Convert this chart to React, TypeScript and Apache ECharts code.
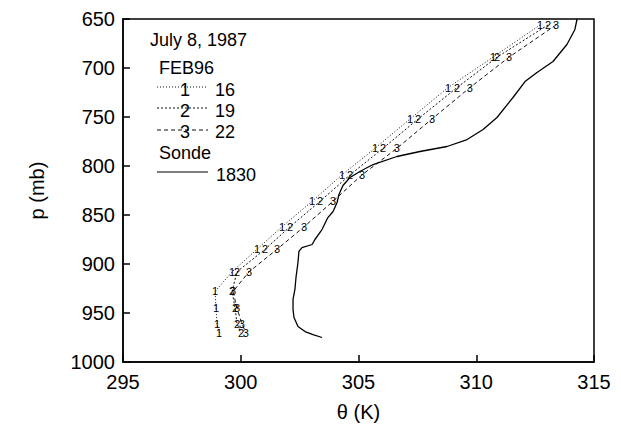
import React, { useEffect, useRef } from "react";
import * as echarts from "echarts";

// Model levels (mb) and potential temperature (K) for the FEB96 runs
const pLevels = [656, 689, 720, 752, 782, 809, 836, 862, 885, 908, 928, 945, 961, 970];
const theta16 = [312.71, 310.71, 308.8, 307.19, 305.7, 304.3, 303.03, 301.75, 300.69, 299.63, 298.91, 298.95, 298.99, 299.08];
const theta19 = [313.05, 310.88, 309.18, 307.53, 306.04, 304.64, 303.37, 302.09, 301.03, 299.84, 299.63, 299.76, 299.84, 300.01];
const theta22 = [313.39, 311.39, 309.73, 308.12, 306.63, 305.15, 303.92, 302.69, 301.54, 300.35, 299.67, 299.84, 300.05, 300.22];

// Sonde 1830
const sondeP = [650, 660.7, 676, 693.4, 704.6, 713.8, 730.1, 750.5, 762.8, 773, 780.1, 785.2, 790.3, 798.5, 805.6, 811.7, 819.9, 829.1, 837.2, 846.4, 852.6, 864.8, 875, 880.1, 883.2, 887.2, 898.5, 912.8, 926, 936.2, 946.4, 954.6, 963.8, 968.9, 972, 975];
const sondeTheta = [314.28, 314.19, 313.85, 313.26, 312.58, 312.07, 311.56, 310.88, 310.29, 309.61, 308.76, 307.61, 306.63, 305.62, 305.06, 304.64, 304.34, 304.17, 304.09, 303.92, 303.7, 303.45, 303.15, 303.03, 302.6, 302.47, 302.43, 302.35, 302.3, 302.22, 302.22, 302.26, 302.43, 302.73, 303.07, 303.45];

const xTicks = { min: 295, max: 315, interval: 5 };
const yTicks = { min: 650, max: 1000, interval: 50 };

const FONT = '"Liberation Sans", Arial, Helvetica, sans-serif';

function modelSeries(name: string, thetas: number[], mark: string, dash: number[]) {
  return {
    name,
    type: "line",
    color: "#000",
    data: thetas.map((t, i) => [t, pLevels[i]]),
    symbol: "circle",
    symbolSize: 1,
    showSymbol: true,
    itemStyle: { color: "transparent", borderColor: "transparent", borderWidth: 0 },
    lineStyle: { color: "#111", width: 1, type: dash },
    label: {
      show: true,
      position: "inside",
      formatter: mark,
      fontSize: 11,
      fontFamily: FONT,
      color: "#000",
      textBorderWidth: 0,
      textBorderColor: "transparent",
    },
    labelLayout: { hideOverlap: false },
    emphasis: { disabled: true },
    z: 3,
  };
}

export default function App() {
  const ref = useRef<HTMLDivElement>(null);
  useEffect(() => {
    document.body.style.margin = "0";
    if (!ref.current) return;
    const chart = echarts.init(ref.current, undefined, { renderer: "svg" });
    const legendFont = `18px ${FONT}`;
    const t = (text: string, x: number, y: number, align = "left") => ({
      type: "text",
      x,
      y,
      style: { text, font: legendFont, fill: "#000", textAlign: align, textVerticalAlign: "middle" },
    });
    const option: any = {
      animation: false,
      backgroundColor: "#fff",
      color: ["#000", "#000", "#000", "#000"],
      grid: {
        left: 123,
        right: 27,
        top: 19,
        bottom: 74,
        show: true,
        borderColor: "#000",
        borderWidth: 1.5,
        backgroundColor: "transparent",
      },
      xAxis: {
        type: "value",
        min: xTicks.min,
        max: xTicks.max,
        interval: xTicks.interval,
        name: "θ (K)",
        nameLocation: "middle",
        nameGap: 40,
        nameTextStyle: { fontSize: 20, fontFamily: FONT, color: "#000" },
        axisLine: { show: true, lineStyle: { color: "#000", width: 1.5 } },
        axisTick: { show: true, inside: true, length: 7, lineStyle: { color: "#000", width: 1.5 } },
        axisLabel: { fontSize: 20, fontFamily: FONT, color: "#000", margin: 10, formatter: (v: number) => String(v) },
        splitLine: { show: false },
      },
      yAxis: {
        type: "value",
        inverse: true,
        min: yTicks.min,
        max: yTicks.max,
        interval: yTicks.interval,
        name: "p (mb)",
        nameLocation: "middle",
        nameRotate: 90,
        nameGap: 76,
        nameTextStyle: { fontSize: 20, fontFamily: FONT, color: "#000" },
        axisLine: { show: true, lineStyle: { color: "#000", width: 1.5 } },
        axisTick: { show: true, inside: true, length: 7, lineStyle: { color: "#000", width: 1.5 } },
        axisLabel: { fontSize: 20, fontFamily: FONT, color: "#000", margin: 8, formatter: (v: number) => String(v) },
        splitLine: { show: false },
      },
      series: [
        modelSeries("16", theta16, "1", [1, 2]),
        modelSeries("19", theta19, "2", [2, 2]),
        modelSeries("22", theta22, "3", [4, 3]),
        {
          name: "1830",
          type: "line",
          data: sondeTheta.map((v, i) => [v, sondeP[i]]),
          showSymbol: false,
          symbol: "none",
          lineStyle: { color: "#000", width: 1.3 },
          emphasis: { disabled: true },
          z: 2,
        },
      ],
      graphic: [
        t("July 8, 1987", 150, 40),
        t("FEB96", 159, 68),
        { type: "line", shape: { x1: 157, y1: 87, x2: 208, y2: 87 }, style: { stroke: "#111", lineWidth: 1, lineDash: [1, 2] } },
        t("1", 185, 90, "center"),
        t("16", 215, 90),
        { type: "line", shape: { x1: 157, y1: 108, x2: 208, y2: 108 }, style: { stroke: "#111", lineWidth: 1, lineDash: [2, 2] } },
        t("2", 185, 111, "center"),
        t("19", 215, 111),
        { type: "line", shape: { x1: 157, y1: 130, x2: 208, y2: 130 }, style: { stroke: "#111", lineWidth: 1, lineDash: [4, 3] } },
        t("3", 185, 132, "center"),
        t("22", 215, 132),
        t("Sonde", 159, 153),
        { type: "line", shape: { x1: 157, y1: 172, x2: 208, y2: 172 }, style: { stroke: "#000", lineWidth: 1 } },
        t("1830", 216, 175),
      ],
    };
    chart.setOption(option);
    return () => chart.dispose();
  }, []);
  return <div ref={ref} style={{ width: 621, height: 436 }} />;
}
